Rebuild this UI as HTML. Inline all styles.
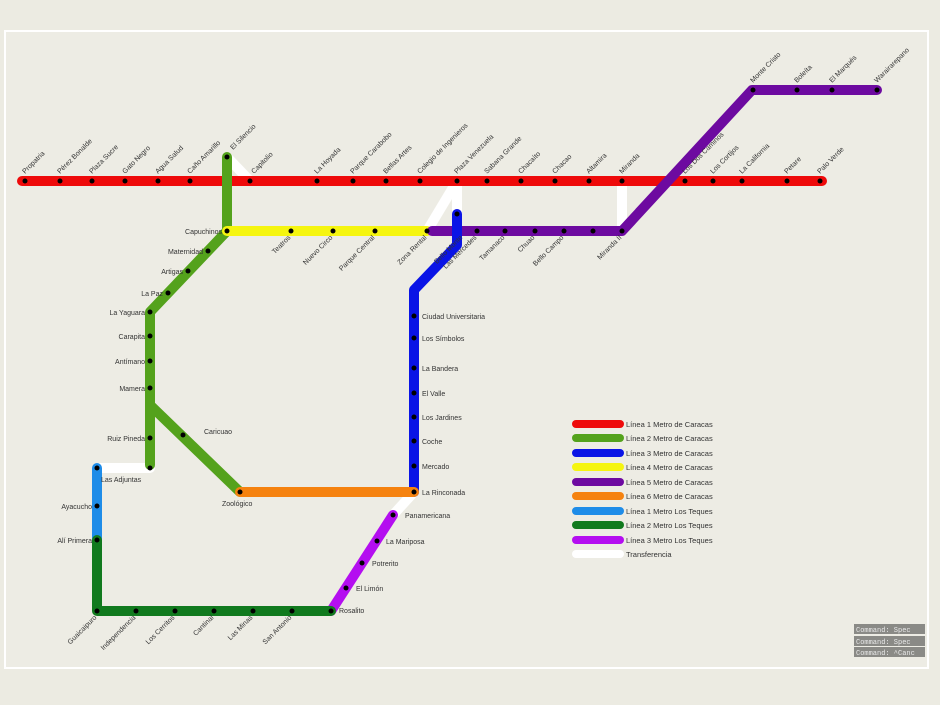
<!DOCTYPE html>
<html><head><meta charset="utf-8"><style>
html,body{margin:0;padding:0;background:#ecebe2;}
svg{display:block;font-family:"Liberation Sans",sans-serif;}
</style></head><body>
<svg width="940" height="705" viewBox="0 0 940 705" xmlns="http://www.w3.org/2000/svg">
<rect x="0" y="0" width="940" height="705" fill="#ecebe2"/>
<rect x="5" y="31" width="923" height="637" fill="#edece4" stroke="#ffffff" stroke-width="2"/>
<g fill="none" stroke-linecap="round" stroke-linejoin="round" stroke-width="10">
<g stroke="#ffffff">
<line x1="227" y1="157" x2="250" y2="181"/>
<polyline points="427,231 457,181 457,214"/>
<line x1="622" y1="181" x2="622" y2="231"/>
<line x1="97" y1="468" x2="150" y2="468"/>
<line x1="414" y1="492" x2="393" y2="515"/>
</g>
<line x1="22" y1="181" x2="822" y2="181" stroke="#ee0a0a"/>
<polyline points="227,157 227,231 150,312 150,465" stroke="#54a21c"/>
<line x1="150" y1="405" x2="240" y2="492" stroke="#54a21c"/>
<line x1="227" y1="231" x2="427" y2="231" stroke="#f5f510"/>
<polyline points="432,231 622,231 752,90 877,90" stroke="#6d0aa0"/>
<polyline points="457,214 457,245 414,290 414,492" stroke="#0a14e6"/>
<line x1="240" y1="492" x2="414" y2="492" stroke="#f5820f"/>
<line x1="393" y1="515" x2="331" y2="611" stroke="#b40ef0"/>
<line x1="97" y1="468" x2="97" y2="540" stroke="#1e8ce8"/>
<polyline points="97,540 97,611 331,611" stroke="#117a1e"/>
</g>
<g fill="#000">
<circle cx="25" cy="181" r="2.5"/><circle cx="60" cy="181" r="2.5"/><circle cx="92" cy="181" r="2.5"/><circle cx="125" cy="181" r="2.5"/><circle cx="158" cy="181" r="2.5"/><circle cx="190" cy="181" r="2.5"/><circle cx="250" cy="181" r="2.5"/><circle cx="317" cy="181" r="2.5"/><circle cx="353" cy="181" r="2.5"/><circle cx="386" cy="181" r="2.5"/><circle cx="420" cy="181" r="2.5"/><circle cx="457" cy="181" r="2.5"/><circle cx="487" cy="181" r="2.5"/><circle cx="521" cy="181" r="2.5"/><circle cx="555" cy="181" r="2.5"/><circle cx="589" cy="181" r="2.5"/><circle cx="622" cy="181" r="2.5"/><circle cx="685" cy="181" r="2.5"/><circle cx="713" cy="181" r="2.5"/><circle cx="742" cy="181" r="2.5"/><circle cx="787" cy="181" r="2.5"/><circle cx="820" cy="181" r="2.5"/>
<circle cx="227" cy="157" r="2.5"/><circle cx="227" cy="231" r="2.5"/><circle cx="208" cy="251" r="2.5"/><circle cx="188" cy="271" r="2.5"/><circle cx="168" cy="293" r="2.5"/><circle cx="150" cy="312" r="2.5"/><circle cx="150" cy="336" r="2.5"/><circle cx="150" cy="361" r="2.5"/><circle cx="150" cy="388" r="2.5"/><circle cx="150" cy="438" r="2.5"/><circle cx="150" cy="468" r="2.5"/><circle cx="183" cy="435" r="2.5"/><circle cx="240" cy="492" r="2.5"/>
<circle cx="291" cy="231" r="2.5"/><circle cx="333" cy="231" r="2.5"/><circle cx="375" cy="231" r="2.5"/><circle cx="427" cy="231" r="2.5"/>
<circle cx="477" cy="231" r="2.5"/><circle cx="505" cy="231" r="2.5"/><circle cx="535" cy="231" r="2.5"/><circle cx="564" cy="231" r="2.5"/><circle cx="593" cy="231" r="2.5"/><circle cx="622" cy="231" r="2.5"/><circle cx="753" cy="90" r="2.5"/><circle cx="797" cy="90" r="2.5"/><circle cx="832" cy="90" r="2.5"/><circle cx="877" cy="90" r="2.5"/>
<circle cx="457" cy="214" r="2.5"/><circle cx="414" cy="316" r="2.5"/><circle cx="414" cy="338" r="2.5"/><circle cx="414" cy="368" r="2.5"/><circle cx="414" cy="393" r="2.5"/><circle cx="414" cy="417" r="2.5"/><circle cx="414" cy="441" r="2.5"/><circle cx="414" cy="466" r="2.5"/><circle cx="414" cy="492" r="2.5"/>
<circle cx="393" cy="515" r="2.5"/><circle cx="377" cy="541" r="2.5"/><circle cx="362" cy="563" r="2.5"/><circle cx="346" cy="588" r="2.5"/><circle cx="331" cy="611" r="2.5"/>
<circle cx="97" cy="468" r="2.5"/><circle cx="97" cy="506" r="2.5"/><circle cx="97" cy="540" r="2.5"/><circle cx="97" cy="611" r="2.5"/><circle cx="136" cy="611" r="2.5"/><circle cx="175" cy="611" r="2.5"/><circle cx="214" cy="611" r="2.5"/><circle cx="253" cy="611" r="2.5"/><circle cx="292" cy="611" r="2.5"/>
</g>
<g font-size="7" fill="#333">
<g>
<text transform="translate(25,174) rotate(-45)">Propatria</text>
<text transform="translate(60,174) rotate(-45)">Pérez Bonalde</text>
<text transform="translate(92,174) rotate(-45)">Plaza Sucre</text>
<text transform="translate(125,174) rotate(-45)">Gato Negro</text>
<text transform="translate(158,174) rotate(-45)">Agua Salud</text>
<text transform="translate(190,174) rotate(-45)">Caño Amarillo</text>
<text transform="translate(233,150) rotate(-45)">El Silencio</text>
<text transform="translate(254,174) rotate(-45)">Capitolio</text>
<text transform="translate(317,174) rotate(-45)">La Hoyada</text>
<text transform="translate(353,174) rotate(-45)">Parque Carabobo</text>
<text transform="translate(386,174) rotate(-45)">Bellas Artes</text>
<text transform="translate(420,174) rotate(-45)">Colegio de Ingenieros</text>
<text transform="translate(457,174) rotate(-45)">Plaza Venezuela</text>
<text transform="translate(487,174) rotate(-45)">Sabana Grande</text>
<text transform="translate(521,174) rotate(-45)">Chacaíto</text>
<text transform="translate(555,174) rotate(-45)">Chacao</text>
<text transform="translate(589,174) rotate(-45)">Altamira</text>
<text transform="translate(622,174) rotate(-45)">Miranda</text>
<text transform="translate(685,174) rotate(-45)">Los Dos Caminos</text>
<text transform="translate(713,174) rotate(-45)">Los Cortijos</text>
<text transform="translate(742,174) rotate(-45)">La California</text>
<text transform="translate(787,174) rotate(-45)">Petare</text>
<text transform="translate(820,174) rotate(-45)">Palo Verde</text>
<text transform="translate(753,83) rotate(-45)">Monte Cristo</text>
<text transform="translate(797,83) rotate(-45)">Boleíta</text>
<text transform="translate(832,83) rotate(-45)">El Marqués</text>
<text transform="translate(877,83) rotate(-45)">Warairarepano</text>
</g>
<g text-anchor="end">
<text transform="translate(291,238) rotate(-45)">Teatros</text>
<text transform="translate(333,238) rotate(-45)">Nuevo Circo</text>
<text transform="translate(375,238) rotate(-45)">Parque Central</text>
<text transform="translate(427,238) rotate(-45)">Zona Rental</text>
<text transform="translate(477,238) rotate(-45)">Las Mercedes</text>
<text transform="translate(505,238) rotate(-45)">Tamanaco</text>
<text transform="translate(535,238) rotate(-45)">Chuao</text>
<text transform="translate(564,238) rotate(-45)">Bello Campo</text>
<text transform="translate(622,238) rotate(-45)">Miranda II</text>
<text transform="translate(463,238) rotate(-45)">Bello Monte</text>
<text transform="translate(97,618) rotate(-45)">Guaicaipuro</text>
<text transform="translate(136,618) rotate(-45)">Independencia</text>
<text transform="translate(175,618) rotate(-45)">Los Cerritos</text>
<text transform="translate(214,618) rotate(-45)">Cantinal</text>
<text transform="translate(253,618) rotate(-45)">Las Minas</text>
<text transform="translate(292,618) rotate(-45)">San Antonio</text>
<text x="222" y="234">Capuchinos</text>
<text x="203" y="254">Maternidad</text>
<text x="183" y="274">Artigas</text>
<text x="163" y="296">La Paz</text>
<text x="145" y="315">La Yaguara</text>
<text x="145" y="339">Carapita</text>
<text x="145" y="364">Antímano</text>
<text x="145" y="391">Mamera</text>
<text x="145" y="441">Ruiz Pineda</text>
<text x="92" y="509">Ayacucho</text>
<text x="92" y="543">Alí Primera</text>
</g>
<text x="204" y="434">Caricuao</text>
<text x="101" y="482">Las Adjuntas</text>
<text x="222" y="506">Zoológico</text>
<text x="422" y="319">Ciudad Universitaria</text>
<text x="422" y="341">Los Símbolos</text>
<text x="422" y="371">La Bandera</text>
<text x="422" y="396">El Valle</text>
<text x="422" y="420">Los Jardines</text>
<text x="422" y="444">Coche</text>
<text x="422" y="469">Mercado</text>
<text x="422" y="495">La Rinconada</text>
<text x="405" y="518">Panamericana</text>
<text x="386" y="544">La Mariposa</text>
<text x="372" y="566">Potrerito</text>
<text x="356" y="591">El Limón</text>
<text x="339" y="613">Rosalito</text>
</g>
<g stroke-linecap="round" stroke-width="8">
<line x1="576" y1="424" x2="620" y2="424" stroke="#ee0a0a"/>
<line x1="576" y1="438" x2="620" y2="438" stroke="#54a21c"/>
<line x1="576" y1="453" x2="620" y2="453" stroke="#0a14e6"/>
<line x1="576" y1="467" x2="620" y2="467" stroke="#f5f510"/>
<line x1="576" y1="482" x2="620" y2="482" stroke="#6d0aa0"/>
<line x1="576" y1="496" x2="620" y2="496" stroke="#f5820f"/>
<line x1="576" y1="511" x2="620" y2="511" stroke="#1e8ce8"/>
<line x1="576" y1="525" x2="620" y2="525" stroke="#117a1e"/>
<line x1="576" y1="540" x2="620" y2="540" stroke="#b40ef0"/>
<line x1="576" y1="554" x2="620" y2="554" stroke="#ffffff"/>
</g>
<g font-size="7.5" fill="#333">
<text x="626" y="427">Línea 1 Metro de Caracas</text>
<text x="626" y="441">Línea 2 Metro de Caracas</text>
<text x="626" y="456">Línea 3 Metro de Caracas</text>
<text x="626" y="470">Línea 4 Metro de Caracas</text>
<text x="626" y="485">Línea 5 Metro de Caracas</text>
<text x="626" y="499">Línea 6 Metro de Caracas</text>
<text x="626" y="514">Línea 1 Metro Los Teques</text>
<text x="626" y="528">Línea 2 Metro Los Teques</text>
<text x="626" y="543">Línea 3 Metro Los Teques</text>
<text x="626" y="557">Transferencia</text>
</g>
<g fill="#8a8a86"><rect x="854" y="624" width="71" height="10"/><rect x="854" y="636" width="71" height="10"/><rect x="854" y="647" width="71" height="10"/></g>
<g font-size="7" fill="#e8e8e8" font-family="Liberation Mono,monospace"><text x="856" y="632">Command: Spec</text><text x="856" y="644">Command: Spec</text><text x="856" y="655">Command: ^Canc</text></g>
</svg>
</body></html>
